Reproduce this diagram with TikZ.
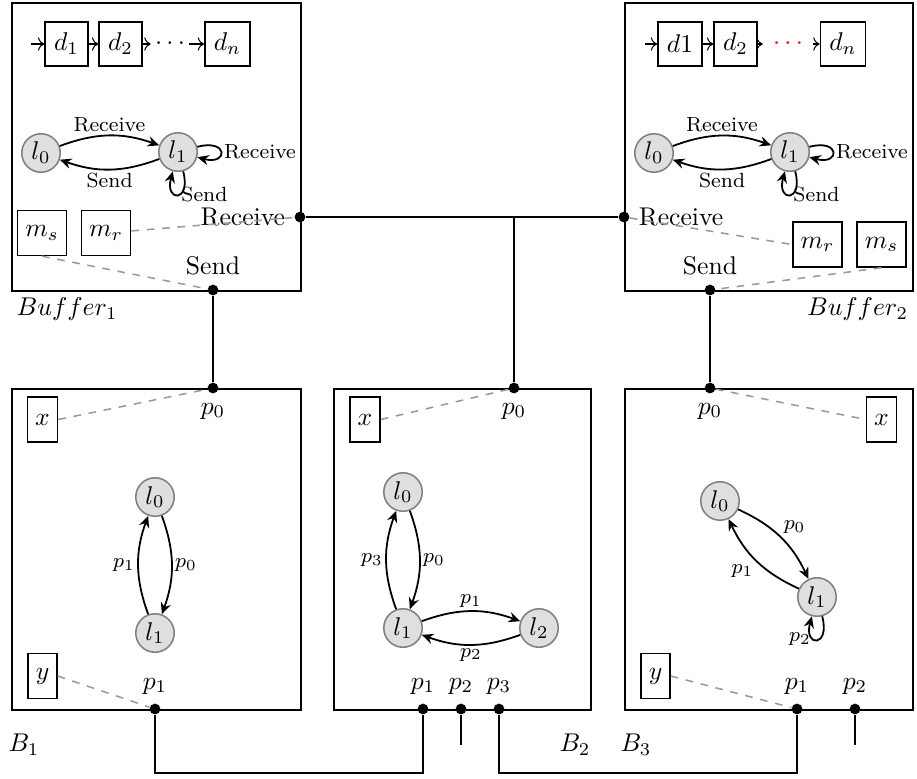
\documentclass[tikz,border=0pt]{standalone}
\usetikzlibrary{arrows.meta}

\tikzset{
  comp/.style={draw, line width=0.7pt, anchor=north west, inner sep=0pt},
  cell/.style={draw, semithick, inner xsep=3.5pt, minimum height=17pt},
  var/.style={draw, semithick, inner xsep=3pt, minimum height=17.5pt},
  state/.style={circle, draw=gray, semithick, fill=gray!25, minimum size=15pt, inner sep=0pt},
  trans/.style={-{Stealth[length=4.5pt,width=4pt,inset=1.5pt]}, line width=0.7pt, font=\footnotesize, auto, inner sep=1pt},
  port/.style={circle, fill=black, inner sep=0pt, minimum size=4.2pt},
  wire/.style={line width=0.7pt},
  link/.style={dashed, semithick, gray!80},
  every loop/.style={min distance=4mm},
}

\begin{document}
\begin{tikzpicture}[x=0.39pt, y=-0.39pt]
\useasboundingbox (0,0) rectangle (917,778);

% Buffer 1
\node[comp, minimum width=112.7pt, minimum height=112.3pt] (buf1) at (11,2) {};
\node[anchor=north west, inner sep=2pt] (buf1name) at (buf1.south west) {$Buffer_1$};
\coordinate (buf1in) at (31,44);
\node[cell] (buf1d1) at (66.5,44) {$d_1$};
\node[cell] (buf1d2) at (120.5,44) {$d_2$};
\node[inner sep=1.5pt] (buf1dots) at (170,44) {$\cdots$};
\node[cell] (buf1dn) at (227.5,44) {$d_n$};
\foreach \a/\b in {in/d1, d1/d2, d2/dots, dots/dn}
  \draw[->] (buf1\a) -- (buf1\b);
\node[state] (buf1l0) at (41,153) {$l_0$};
\node[state] (buf1l1) at (178,152) {$l_1$};
\path[trans] (buf1l0) edge[bend left=20] node {Receive} (buf1l1)
             (buf1l1) edge[bend left=20] node {Send} (buf1l0)
             (buf1l1) edge[loop right] node {Receive} ()
             (buf1l1) edge[loop below] node[right] {Send} ();
\node[var] (buf1ms) at (42,233) {$m_s$};
\node[var] (buf1mr) at (106,233) {$m_r$};

% Buffer 2
\node[comp, minimum width=112.3pt, minimum height=112.3pt] (buf2) at (624,2) {};
\node[anchor=north east, inner sep=2pt] (buf2name) at (buf2.south east) {$Buffer_2$};
\coordinate (buf2in) at (645,44);
\node[cell] (buf2d1) at (680,44) {$d1$};
\node[cell] (buf2d2) at (735.5,44) {$d_2$};
\node[inner xsep=3.8pt, text=red] (buf2dots) at (788,44) {$\cdots$};
\node[cell] (buf2dn) at (843,44) {$d_n$};
\foreach \a/\b in {in/d1, d1/d2, d2/dots, dots/dn}
  \draw[->] (buf2\a) -- (buf2\b);
\node[state] (buf2l0) at (654,153) {$l_0$};
\node[state] (buf2l1) at (790,152) {$l_1$};
\path[trans] (buf2l0) edge[bend left=20] node {Receive} (buf2l1)
             (buf2l1) edge[bend left=20] node {Send} (buf2l0)
             (buf2l1) edge[loop right] node {Receive} ()
             (buf2l1) edge[loop below] node[right] {Send} ();
\node[var] (buf2mr) at (817.5,244.5) {$m_r$};
\node[var] (buf2ms) at (881.5,244.5) {$m_s$};

% Component B1
\node[comp, minimum width=112.7pt, minimum height=125.2pt] (comp1) at (11,388) {};
\node (comp1name) at (24,745) {$B_1$};
\node[var] (comp1x) at (42.5,419.5) {$x$};
\node[var] (comp1y) at (42.5,676) {$y$};
\node[state] (comp1l0) at (155,497) {$l_0$};
\node[state] (comp1l1) at (155,633) {$l_1$};
\path[trans] (comp1l0) edge[bend left=20] node {$p_0$} (comp1l1)
             (comp1l1) edge[bend left=20] node {$p_1$} (comp1l0);

% Component B2
\node[comp, minimum width=100.2pt, minimum height=125.2pt] (comp2) at (333,388) {};
\node (comp2name) at (575,745) {$B_2$};
\node[var] (comp2x) at (365,419.5) {$x$};
\node[state] (comp2l0) at (403,492) {$l_0$};
\node[state] (comp2l1) at (403,628) {$l_1$};
\node[state] (comp2l2) at (539,628) {$l_2$};
\path[trans] (comp2l0) edge[bend left=20] node {$p_0$} (comp2l1)
             (comp2l1) edge[bend left=20] node {$p_3$} (comp2l0)
             (comp2l1) edge[bend left=20] node {$p_1$} (comp2l2)
             (comp2l2) edge[bend left=20] node {$p_2$} (comp2l1);

% Component B3
\node[comp, minimum width=112.3pt, minimum height=125.2pt] (comp3) at (624,388) {};
\node (comp3name) at (636,745) {$B_3$};
\node[var] (comp3x) at (881.5,419.5) {$x$};
\node[var] (comp3y) at (655.5,676) {$y$};
\node[state] (comp3l0) at (720,501) {$l_0$};
\node[state] (comp3l1) at (817,597) {$l_1$};
\path[trans] (comp3l0) edge[bend left=20] node {$p_0$} (comp3l1)
             (comp3l1) edge[bend left=20] node {$p_1$} (comp3l0)
             (comp3l1) edge[loop below] node[left, pos=0.6] {$p_2$} ();

% Ports
\node[port, label=left:Receive] (buf1recv) at (300,217) {};
\node[port, label=above:Send] (buf1send) at (213,290) {};
\node[port, label=right:Receive] (buf2recv) at (624,217) {};
\node[port, label=above:Send] (buf2send) at (710,290) {};
\node[port, label=below:$p_0$] (comp1p0) at (213,388) {};
\node[port, label=above:$p_1$] (comp1p1) at (155,709) {};
\node[port, label=below:$p_0$] (comp2p0) at (514,388) {};
\node[port, label=above:$p_1$] (comp2p1) at (423,709) {};
\node[port, label=above:$p_2$] (comp2p2) at (461,709) {};
\node[port, label=above:$p_3$] (comp2p3) at (499,709) {};
\node[port, label=below:$p_0$] (comp3p0) at (710,388) {};
\node[port, label=above:$p_1$] (comp3p1) at (797,709) {};
\node[port, label=above:$p_2$] (comp3p2) at (855,709) {};

% Connections
\coordinate (junc) at (comp2p0 |- buf1recv);
\coordinate (comp2p2end) at (461,745);
\coordinate (comp3p2end) at (855,745);
\draw[wire] (buf1recv) -- (buf2recv);
\draw[wire] (junc) -- (comp2p0);
\draw[wire] (buf1send) -- (comp1p0);
\draw[wire] (buf2send) -- (comp3p0);
\draw[wire] (comp1p1) -- ++(0,64) -| (comp2p1);
\draw[wire] (comp2p3) -- ++(0,64) -| (comp3p1);
\draw[wire] (comp2p2) -- (comp2p2end);
\draw[wire] (comp3p2) -- (comp3p2end);

% Variable links
\draw[link] (buf1mr) -- (buf1recv);
\draw[link] (buf1ms.south) -- (buf1send);
\draw[link] (buf2recv) -- (buf2mr.west);
\draw[link] (buf2ms.south) -- (buf2send);
\draw[link] (comp1x.east) -- (comp1p0);
\draw[link] (comp1y.east) -- (comp1p1);
\draw[link] (comp2x.east) -- (comp2p0);
\draw[link] (comp3p0) -- (comp3x.west);
\draw[link] (comp3y.east) -- (comp3p1);

\end{tikzpicture}
\end{document}
